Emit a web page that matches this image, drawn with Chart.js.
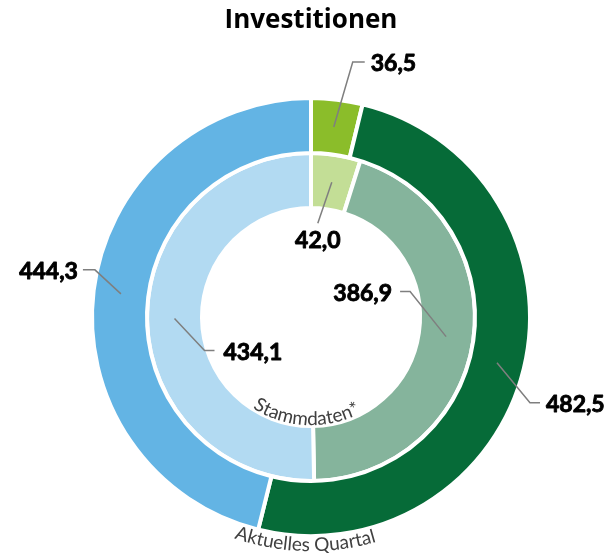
<!DOCTYPE html>
<html><head><meta charset="utf-8">
<script src="https://cdn.jsdelivr.net/npm/chart.js@4.4.1/dist/chart.umd.min.js"></script>
<style>html,body{margin:0;padding:0;background:#fff}#wrap{width:606px;height:553px;position:relative}</style>
</head><body><div id="wrap"><canvas id="c" width="606" height="553"></canvas></div>
<script>
// ---- data ----
const chartTitle = 'Investitionen';
const categories = ['Anteil 1', 'Anteil 2', 'Anteil 3'];
const seriesNames = ['Aktuelles Quartal', 'Stammdaten*'];
const aktuellesQuartal = [36.5, 482.5, 444.3];
const stammdaten = [42.0, 386.9, 434.1];

// ---- styles ----
const outerColors = ['#8BBD2A', '#066B38', '#63B4E4'];
const innerColors = ['#C3DE96', '#85B49C', '#B2DAF2'];
const fmt = v => v.toFixed(1).replace('.', ',');
// leader line layout per ring / segment: elbow offset from anchor, horizontal run, text gap
const leaderLayout = [
  [ {dx: 19, dy: -65, h: 12, gap: 6},
    {dx: 33, dy: 40, h: 10, gap: 6},
    {dx: -26, dy: -24, h: -12, gap: 5} ],
  [ {dx: -14, dy: 41, h: 0, below: 17},
    {dx: -36, dy: -45, h: -10, gap: 8},
    {dx: 30, dy: 32, h: 10, gap: 9} ]
];
const curvedLabels = [
  {r: 234, shift: 0.026, font: '19px Lato'},
  {r: 108, shift: 0.05, font: '19px Lato'}
];

function drawArcText(ctx, text, cx, cy, r, centerAngle, font, color) {
  ctx.save();
  ctx.font = font; ctx.fillStyle = color; ctx.textAlign = 'left'; ctx.textBaseline = 'alphabetic';
  const total = ctx.measureText(text).width;
  let a = centerAngle + total / (2 * r);
  for (const ch of text) {
    const w = ctx.measureText(ch).width;
    const mid = a - w / (2 * r);
    ctx.save();
    ctx.translate(cx + r * Math.cos(mid), cy + r * Math.sin(mid));
    ctx.rotate(mid - Math.PI / 2);
    ctx.fillText(ch, -w / 2, 0);
    ctx.restore();
    a -= w / r;
  }
  ctx.restore();
}

const labelPlugin = {
  id: 'leaderLabels',
  afterDatasetsDraw(chart) {
    const ctx = chart.ctx;
    chart.data.datasets.forEach((ds, di) => {
      const meta = chart.getDatasetMeta(di);
      meta.data.forEach((arc, i) => {
        const p = arc.getCenterPoint();
        const L = leaderLayout[di][i];
        const ex = p.x + L.dx, ey = p.y + L.dy;
        const hx = ex + L.h;
        ctx.save();
        ctx.strokeStyle = '#7F7F7F'; ctx.lineWidth = 1.5;
        ctx.beginPath(); ctx.moveTo(p.x, p.y); ctx.lineTo(ex, ey);
        if (L.h) ctx.lineTo(hx, ey);
        ctx.stroke();
        ctx.font = 'bold 23px Lato'; ctx.fillStyle = '#000'; ctx.strokeStyle = '#000';
        ctx.lineWidth = 0.9; ctx.lineJoin = 'round'; ctx.textBaseline = 'middle';
        const txt = fmt(ds.data[i]);
        let tx, ty;
        if (L.below) { ctx.textAlign = 'center'; tx = ex; ty = ey + L.below; }
        else if (L.h > 0) { ctx.textAlign = 'left'; tx = hx + L.gap; ty = ey + 2; }
        else { ctx.textAlign = 'right'; tx = hx - L.gap; ty = ey + 2; }
        ctx.fillText(txt, tx, ty);
        ctx.strokeText(txt, tx, ty);
        ctx.restore();
      });
      const arc0 = meta.data[0];
      const cl = curvedLabels[di];
      drawArcText(ctx, ds.label, arc0.x, arc0.y, cl.r, Math.PI / 2 + cl.shift, cl.font, '#404040');
    });
  }
};

new Chart(document.getElementById('c'), {
  type: 'doughnut',
  data: {
    labels: categories,
    datasets: [
      {label: seriesNames[0], data: aktuellesQuartal, backgroundColor: outerColors},
      {label: seriesNames[1], data: stammdaten, backgroundColor: innerColors}
    ]
  },
  options: {
    responsive: false,
    animation: false,
    devicePixelRatio: 1,
    radius: 219,
    cutout: '49.77%',
    borderWidth: 4,
    borderColor: '#ffffff',
    layout: {padding: {left: 16, right: 0, top: 0, bottom: 17}},
    plugins: {
      legend: {display: false},
      tooltip: {enabled: false},
      title: {
        display: true, text: chartTitle, color: '#000',
        font: {family: 'Open Sans', size: 26, weight: 'bold', lineHeight: 1.2},
        padding: {top: 5, bottom: 62}
      }
    }
  },
  plugins: [labelPlugin]
});
</script></body></html>
